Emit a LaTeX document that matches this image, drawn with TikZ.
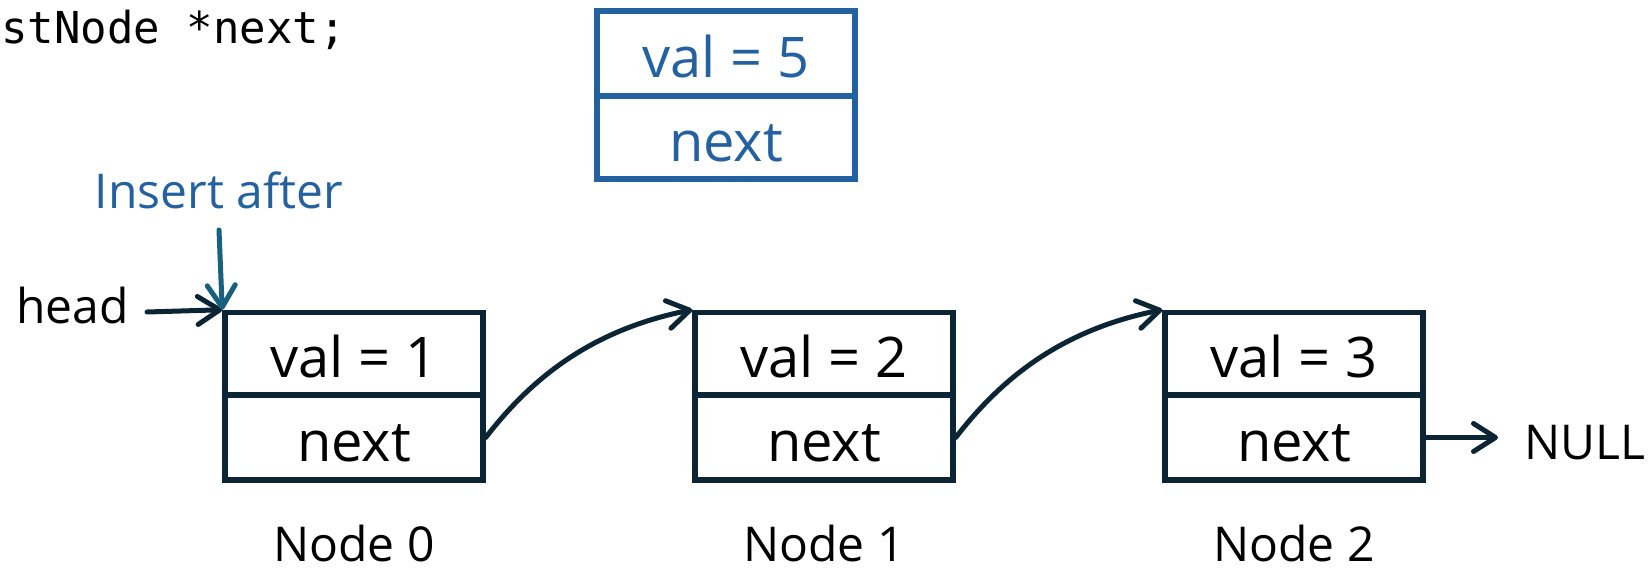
\documentclass[tikz,border=0pt]{standalone}
\usepackage{fontspec}
\setmainfont{Open Sans}
\setmonofont{DejaVu Sans Mono}
\usetikzlibrary{arrows.meta}
\definecolor{dark}{RGB}{11,37,53}
\definecolor{bluebox}{RGB}{36,97,160}
\definecolor{teal}{RGB}{23,96,127}
\tikzset{
  cell/.style={draw=dark, line width=5.5pt, minimum width=258pt, inner sep=0pt,
    font=\fontsize{56}{60}\selectfont, text height=47pt, text depth=0pt, text=black},
  bcell/.style={cell, draw=bluebox, text=bluebox},
  lbl/.style={font=\fontsize{48}{52}\selectfont, inner sep=0pt, text=black, text depth=0pt},
  arr/.style={draw=dark, line width=5pt, line cap=round, -{Straight Barb[length=22pt,width=28pt,round]}},
}
\begin{document}
\begin{tikzpicture}[x=1pt,y=-1pt]
\useasboundingbox (0,0) rectangle (1648,570);
% code text
\node[anchor=base west, inner sep=0pt, font=\ttfamily\fontsize{44}{48}\selectfont] (code) at (1,43) {stNode *next;};
% new node
\node[bcell, minimum height=85pt] (nv) at (726,53.5) {val = 5};
\node[bcell, minimum height=83pt] (nn) at (726,137.5) {next};
% list nodes
\node[cell, minimum height=82.5pt] (n0v) at (354,353.75) {val = 1};
\node[cell, minimum height=85pt] (n0n) at (354,437.5) {next};
\node[cell, minimum height=82.5pt] (n1v) at (824,353.75) {val = 2};
\node[cell, minimum height=85pt] (n1n) at (824,437.5) {next};
\node[cell, minimum height=82.5pt] (n2v) at (1294,353.75) {val = 3};
\node[cell, minimum height=85pt] (n2n) at (1294,437.5) {next};
% labels
\node[lbl, anchor=base] (l0) at (354,561) {Node 0};
\node[lbl, anchor=base] (l1) at (824,561) {Node 1};
\node[lbl, anchor=base] (l2) at (1294,561) {Node 2};
\node[lbl, anchor=base west] (head) at (16,323) {head};
\node[lbl, anchor=west] (null) at (1524,442.5) {NULL};
\node[lbl, anchor=base, text=bluebox] (ins) at (219,208) {Insert after};
% connectors
\coordinate (hs) at (147,312);
\draw[arr] (hs) -- (n0v.north west);
\draw[arr, draw=teal] ([yshift=-22pt]ins.base) -- (n0v.north west);
\draw[arr] (n0n.east) .. controls (530,380) and (590,330) .. (n1v.north west);
\draw[arr] (n1n.east) .. controls (1000,380) and (1060,330) .. (n2v.north west);
\draw[arr] (n2n.east) -- ([xshift=-26pt]null.west |- n2n.east);
\end{tikzpicture}
\end{document}
